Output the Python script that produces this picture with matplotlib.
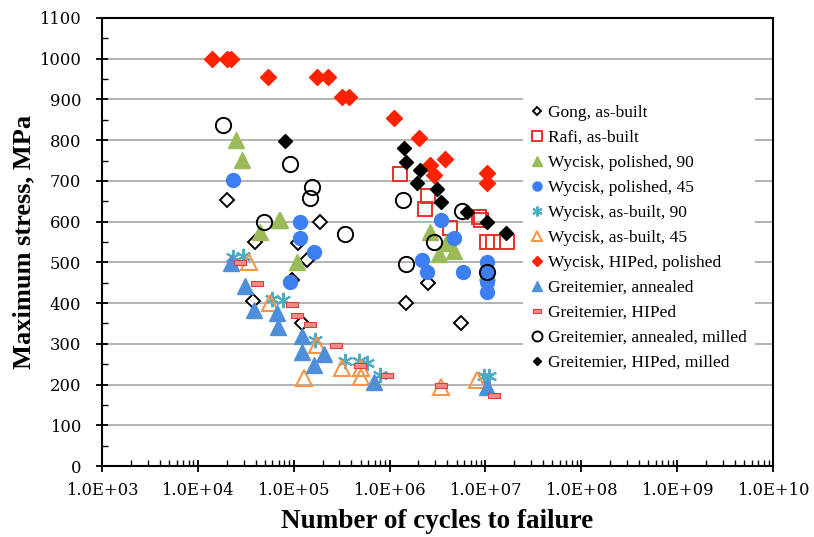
import numpy as np
import matplotlib.pyplot as plt
from matplotlib.ticker import FixedLocator, LogLocator, FuncFormatter, MultipleLocator
from matplotlib.path import Path

# fatigue data: cycles to failure / maximum stress (MPa)
gong_n = [2.0e4, 3.9e4, 3.8e4, 9.6e4, 1.12e5, 1.38e5, 1.22e5, 1.9e5, 1.47e6, 2.5e6, 5.5e6]
gong_s = [653, 551, 404, 457, 548, 506, 351, 600, 400, 449, 350]

rafi_n = [1.28e6, 2.5e6, 2.37e6, 4.26e6, 8.55e6, 9.1e6, 1.05e7, 1.2e7, 1.69e7]
rafi_s = [718, 663, 630, 584, 612, 604, 551, 551, 551]

wyc_pol90_n = [2.51e4, 2.88e4, 4.48e4, 6.95e4, 7.24e4, 1.08e5, 2.67e6, 3.9e6, 3.3e6, 4.7e6, 1.03e7]
wyc_pol90_s = [800, 751, 575, 603, 603, 502, 575, 548, 520, 527, 477]

wyc_pol45_n = [2.3e4, 1.15e5, 1.17e5, 1.61e5, 9.2e4, 3.45e6, 4.69e6, 2.19e6, 2.47e6,
               5.87e6, 1.05e7, 1.05e7, 1.05e7, 1.05e7]
wyc_pol45_s = [702, 600, 559, 526, 452, 604, 561, 506, 477, 477, 502, 477, 452, 428]

wyc_ab90_n = [2.34e4, 2.97e4, 5.97e4, 7.78e4, 1.68e5, 3.46e5, 4.76e5, 5.83e5, 7.9e5, 9.6e6, 1.08e7]
wyc_ab90_s = [512, 516, 410, 408, 309, 258, 258, 252, 224, 222, 220]

wyc_ab45_n = [3.38e4, 5.69e4, 1.27e5, 1.75e5, 3.2e5, 5.0e5, 5.0e5, 3.4e6, 8.1e6]
wyc_ab45_s = [502, 400, 215, 297, 240, 240, 218, 195, 211]

wyc_hip_n = [1.4e4, 2.01e4, 2.21e4, 5.4e4, 1.75e5, 2.3e5, 3.2e5, 3.81e5, 1.12e6, 2.02e6,
             2.63e6, 2.88e6, 3.75e6, 1.03e7, 1.03e7]
wyc_hip_s = [1000, 1000, 1000, 955, 955, 955, 905, 905, 855, 805, 740, 715, 755, 720, 695]

gre_ann_n = [2.21e4, 3.12e4, 3.81e4, 6.7e4, 6.79e4, 1.22e5, 1.22e5, 1.61e5, 2.05e5, 6.84e5, 1.05e7]
gre_ann_s = [498, 442, 383, 375, 342, 320, 281, 248, 275, 207, 195]

gre_hip_n = [2.77e4, 4.14e4, 9.6e4, 1.08e5, 1.49e5, 2.79e5, 4.97e5, 9.44e5, 3.4e6, 1.23e7]
gre_hip_s = [502, 449, 398, 371, 348, 297, 249, 223, 199, 175]

gre_annm_n = [1.85e4, 9.06e4, 1.55e5, 1.49e5, 4.85e4, 3.46e5, 1.38e6, 5.73e6, 2.9e6, 1.47e6, 1.05e7]
gre_annm_s = [837, 741, 685, 657, 600, 570, 652, 625, 549, 497, 477]

gre_hipm_n = [8.17e4, 1.41e6, 1.47e6, 2.1e6, 1.94e6, 3.14e6, 3.4e6, 6.47e6, 1.05e7, 1.63e7]
gre_hipm_s = [797, 780, 747, 727, 695, 679, 649, 624, 600, 571]

plt.rcParams['font.family'] = ['Liberation Serif', 'DejaVu Serif']

dash = Path([(-1, -0.45), (1, -0.45), (1, 0.45), (-1, 0.45), (-1, -0.45)],
            [Path.MOVETO, Path.LINETO, Path.LINETO, Path.LINETO, Path.CLOSEPOLY])

fig = plt.figure(figsize=(8.14, 5.37), dpi=100)
ax = fig.add_axes([0.1253, 0.1322, 0.8243, 0.8343])

ax.plot(gong_n, gong_s, 'D', ms=7, mfc='white', mec='black', mew=1.4, ls='none', label='Gong, as-built')
ax.plot(rafi_n, rafi_s, 's', ms=10, mfc='none', mec='#e8302a', mew=1.4, ls='none', label='Rafi, as-built')
ax.plot(wyc_pol90_n, wyc_pol90_s, '^', ms=11, color='#9bbb59', ls='none', label='Wycisk, polished, 90')
ax.plot(wyc_pol45_n, wyc_pol45_s, 'o', ms=10, color='#3d7ff2', ls='none', label='Wycisk, polished, 45')
ax.plot(wyc_ab90_n, wyc_ab90_s, marker=(6, 2, 0), ms=11, mec='#4bacc6', mew=1.5, ls='none',
        label='Wycisk, as-built, 90')
ax.plot(wyc_ab45_n, wyc_ab45_s, '^', ms=11, mfc='none', mec='#f79646', mew=1.5, ls='none',
        label='Wycisk, as-built, 45')
ax.plot(wyc_hip_n, wyc_hip_s, 'D', ms=8, color='#ff2200', ls='none', label='Wycisk, HIPed, polished')
ax.plot(gre_ann_n, gre_ann_s, '^', ms=11, color='#4f8fd9', ls='none', label='Greitemier, annealed')
ax.plot(gre_hip_n, gre_hip_s, marker=dash, ms=8, mfc='#f28a8a', mec='#e03c3c', mew=0.8, ls='none',
        label='Greitemier, HIPed')
ax.plot(gre_annm_n, gre_annm_s, 'o', ms=11, mfc='none', mec='black', mew=1.4, ls='none',
        label='Greitemier, annealed, milled')
ax.plot(gre_hipm_n, gre_hipm_s, 'D', ms=7, color='black', ls='none', label='Greitemier, HIPed, milled')

ax.set_xscale('log')
ax.set_xlim(1e3, 1e10)
ax.set_ylim(0, 1100)
ax.xaxis.set_major_locator(FixedLocator([10.0 ** k for k in range(3, 11)]))
ax.xaxis.set_minor_locator(LogLocator(base=10, subs=np.arange(2, 10)))
ax.xaxis.set_major_formatter(FuncFormatter(lambda v, p: f'{v:.1E}'))
ax.yaxis.set_major_locator(MultipleLocator(100))
ax.yaxis.set_minor_locator(MultipleLocator(50))

ax.grid(axis='y', which='major', color='#a6a6a6', lw=1.2)
ax.set_axisbelow(True)
for s in ax.spines.values():
    s.set_linewidth(1.5)
ax.tick_params(which='major', direction='inout', length=8, width=1.3)
ax.tick_params(which='minor', direction='in', length=4, width=1.0)
ax.tick_params(axis='x', pad=7.5)
ax.tick_params(axis='y', pad=11)
for lab in ax.get_xticklabels() + ax.get_yticklabels():
    lab.set_fontfamily('DejaVu Serif')
    lab.set_fontsize(11.8)

ax.set_xlabel('Number of cycles to failure', fontsize=19.5, fontweight='bold', labelpad=7)
ax.set_ylabel('Maximum stress, MPa', fontsize=19, fontweight='bold', labelpad=3)

leg = ax.legend(loc='upper left', bbox_to_anchor=(0.615, 0.845), fontsize=12.5, frameon=True,
                framealpha=1, facecolor='white', edgecolor='none', fancybox=False,
                handlelength=0.6, handletextpad=0.3, labelspacing=0.51, borderpad=0.5,
                markerscale=0.65)

fig.savefig('out.png', dpi=100)
